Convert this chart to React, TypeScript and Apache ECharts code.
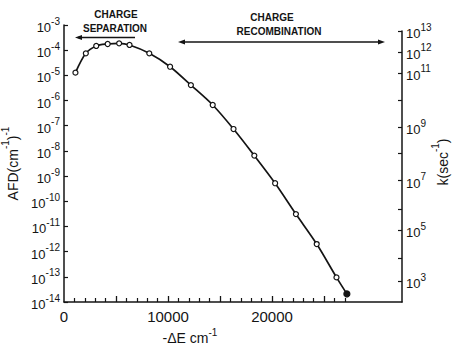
import React, { useEffect, useRef } from 'react';
import * as echarts from 'echarts';

// -ΔE (cm^-1) of each computed point
const deltaE = [1100, 2100, 3100, 4200, 5300, 6300, 8200, 10200, 12200, 14300, 16300, 18300, 20300, 22300, 24300, 26200, 27200];
// AFD (cm^-1)^-1
const afd = [1.28e-5, 7.5e-5, 1.47e-4, 1.76e-4, 1.87e-4, 1.61e-4, 7.5e-5, 2.2e-5, 4.1e-6, 6.65e-7, 7.4e-8, 6.5e-9, 5.2e-10, 3.1e-11, 2.0e-12, 9.5e-14, 2.1e-14];

// x axis ticks
const xLabelValues = [0, 10000, 20000];
const xMajorTicks = [5000, 10000, 15000, 20000, 25000];
const xMinorTicks = [1000, 2000, 3000, 4000, 6000, 7000, 8000, 9000, 11000, 12000, 13000, 14000, 16000, 17000, 18000, 19000, 21000, 22000, 23000, 24000, 26000, 27000];
const xMax = 32500;

// left axis decades
const afdTicks = [1e-14, 1e-13, 1e-12, 1e-11, 1e-10, 1e-9, 1e-8, 1e-7, 1e-6, 1e-5, 1e-4, 1e-3];

// right axis k(sec^-1): tick positions expressed as log10(AFD), and their exponents ('' = unlabeled tick)
const kTickPos = [-3.23, -4.06, -4.89, -5.98, -7.06, -8.1, -9.18, -10.31, -11.14, -12.25, -13.17];
const kTickExp = ['13', '12', '11', '', '9', '', '7', '', '5', '', '3'];

const FONT = '"Liberation Sans", Arial, sans-serif';
const INK = '#141414';

const supRich = {
  b: { fontSize: 13, lineHeight: 18, verticalAlign: 'bottom', fontFamily: FONT, color: INK },
  s: { fontSize: 10, lineHeight: 10, verticalAlign: 'top', fontFamily: FONT, color: INK },
};

const nameRich = {
  n: { fontSize: 14, lineHeight: 20, verticalAlign: 'bottom', fontFamily: FONT, fill: INK, color: INK },
  s: { fontSize: 10, lineHeight: 10, verticalAlign: 'top', fontFamily: FONT, fill: INK, color: INK },
};

export default function App() {
  const ref = useRef<HTMLDivElement>(null);
  useEffect(() => {
    if (!ref.current) return;
    const chart = echarts.init(ref.current, undefined, { renderer: 'svg' });
    const kLabelMap: Record<string, string> = {};
    kTickPos.forEach((p, i) => { if (kTickExp[i]) kLabelMap[p.toFixed(2)] = kTickExp[i]; });
    const kLabelPos = kTickPos.filter((_, i) => kTickExp[i] !== '');

    const data = deltaE.map((x, i) => {
      if (i === deltaE.length - 1) {
        return { value: [x, afd[i]], symbolSize: 6, itemStyle: { color: INK } };
      }
      return [x, afd[i]];
    });

    const option: any = {
      animation: false,
      backgroundColor: '#ffffff',
      textStyle: { fontFamily: FONT, color: INK },
      grid: [
        { left: 64, right: 52, top: 25, bottom: 43, containLabel: false, outerBoundsMode: 'none' },
        { left: 64, right: 52, top: 31, bottom: 43, containLabel: false, outerBoundsMode: 'none' },
      ],
      xAxis: [
        {
          type: 'value', gridIndex: 0, position: 'bottom', min: 0, max: xMax,
          axisLine: { show: true, onZero: false, lineStyle: { color: INK, width: 1.5 } },
          axisTick: { show: true, inside: true, length: 6, customValues: xMajorTicks, lineStyle: { color: INK, width: 1.3 } },
          axisLabel: { show: true, customValues: xLabelValues, fontSize: 15, margin: 7, color: INK, fontFamily: FONT, formatter: (v: number) => String(v) },
          splitLine: { show: false },
        },
        {
          type: 'value', gridIndex: 0, position: 'bottom', min: 0, max: xMax,
          axisLine: { show: false, onZero: false },
          axisTick: { show: true, inside: true, length: 4, customValues: xMinorTicks, lineStyle: { color: INK, width: 1.2 } },
          axisLabel: { show: false },
          splitLine: { show: false },
        },
        { type: 'value', gridIndex: 1, min: 0, max: xMax, show: false },
      ],
      yAxis: [
        {
          type: 'log', logBase: 10, gridIndex: 0, position: 'left', min: 1e-14, max: 1e-3,
          axisLine: { show: true, onZero: false, lineStyle: { color: INK, width: 1.5 } },
          axisTick: { show: true, inside: true, length: 4, customValues: afdTicks, lineStyle: { color: INK, width: 1.2 } },
          axisLabel: {
            show: true, customValues: afdTicks, margin: 4, align: 'right',
            formatter: (v: number) => `{b|10}{s|${Math.round(Math.log10(v))}}`,
            rich: supRich,
          },
          splitLine: { show: false },
          name: '{n|AFD(cm}{s|-1}{n|)}{s|-1}',
          nameLocation: 'middle', nameRotate: 90, nameGap: 42,
          nameTextStyle: { rich: nameRich },
        },
        {
          type: 'value', gridIndex: 1, position: 'right', min: -14, max: kTickPos[0],
          axisLine: { show: true, onZero: false, lineStyle: { color: INK, width: 1.5 } },
          axisTick: { show: true, inside: true, length: 4, customValues: kTickPos, lineStyle: { color: INK, width: 1.2 } },
          axisLabel: {
            show: true, customValues: kLabelPos, margin: 4, align: 'left',
            formatter: (v: number) => `{b|10}{s|${kLabelMap[Number(v).toFixed(2)] ?? ''}}`,
            rich: supRich,
          },
          splitLine: { show: false },
        },
      ],
      series: [
        {
          type: 'line', xAxisIndex: 0, yAxisIndex: 0, data,
          smooth: 0.3, symbol: 'circle', symbolSize: 5,
          lineStyle: { color: INK, width: 1.7 },
          itemStyle: { color: '#ffffff', borderColor: INK, borderWidth: 1.2 },
          z: 3,
        },
      ],
      graphic: [
        { type: 'text', x: 116, y: 14, style: { text: 'CHARGE', font: `bold 10px ${FONT}`, fill: INK, align: 'center', verticalAlign: 'middle' } },
        { type: 'text', x: 115, y: 28, style: { text: 'SEPARATION', font: `bold 10px ${FONT}`, fill: INK, align: 'center', verticalAlign: 'middle' } },
        { type: 'line', shape: { x1: 78, y1: 37.5, x2: 135, y2: 37.5 }, style: { stroke: INK, lineWidth: 1.3 } },
        { type: 'polygon', shape: { points: [[75, 37.5], [82, 35], [82, 40]] }, style: { fill: INK } },
        { type: 'text', x: 272, y: 17, style: { text: 'CHARGE', font: `bold 10px ${FONT}`, fill: INK, align: 'center', verticalAlign: 'middle' } },
        { type: 'text', x: 279, y: 31, style: { text: 'RECOMBINATION', font: `bold 10px ${FONT}`, fill: INK, align: 'center', verticalAlign: 'middle' } },
        { type: 'line', shape: { x1: 181, y1: 42, x2: 382, y2: 42 }, style: { stroke: INK, lineWidth: 1.3 } },
        { type: 'polygon', shape: { points: [[178, 42], [185, 39.5], [185, 44.5]] }, style: { fill: INK } },
        { type: 'polygon', shape: { points: [[385, 42], [378, 39.5], [378, 44.5]] }, style: { fill: INK } },
        {
          type: 'text', x: 440, y: 162, rotation: Math.PI / 2,
          style: { text: '{n|k(sec}{s|-1}{n|)}', align: 'center', verticalAlign: 'middle', rich: nameRich },
        },
        {
          type: 'text', x: 190, y: 336,
          style: {
            text: '{n|-ΔE cm}{s|-1}', align: 'center', verticalAlign: 'middle',
            rich: {
              n: { fontSize: 14, lineHeight: 18, verticalAlign: 'bottom', fontFamily: FONT, fill: INK },
              s: { fontSize: 10, lineHeight: 10, verticalAlign: 'top', fontFamily: FONT, fill: INK },
            },
          },
        },
      ],
    };
    chart.setOption(option);
    return () => chart.dispose();
  }, []);
  return <div ref={ref} style={{ position: 'fixed', left: 0, top: 0, width: 454, height: 345, background: '#fff' }} />;
}
